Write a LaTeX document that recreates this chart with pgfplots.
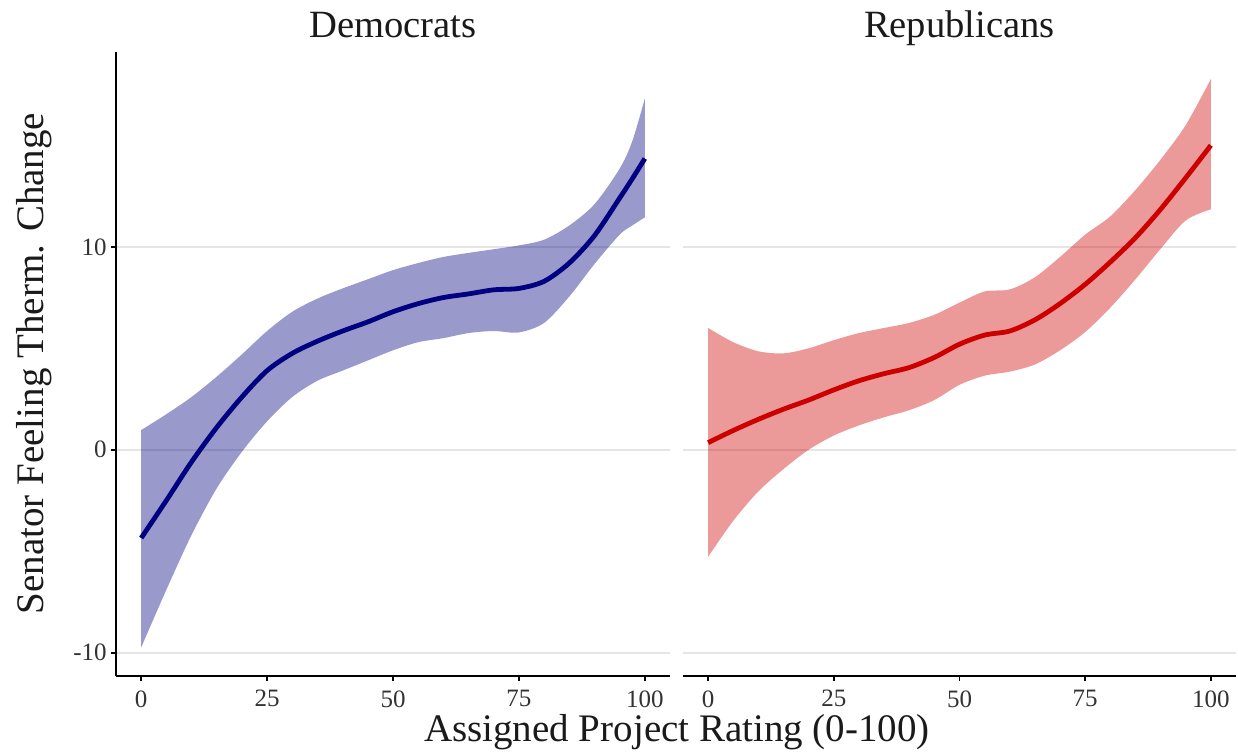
\documentclass[border=0pt]{standalone}
\usepackage{fontspec}
\setmainfont{Liberation Serif}
\usepackage{pgfplots}
\usepackage{pgfplotstable}
\pgfplotsset{compat=1.18}
\usepgfplotslibrary{fillbetween}

\definecolor{demline}{HTML}{000080}
\definecolor{repline}{HTML}{CD0000}
\definecolor{gridc}{HTML}{E5E5E5}
\definecolor{tickc}{HTML}{333333}
\definecolor{titc}{HTML}{1A1A1A}

\pgfplotstableread{
x lo mid hi
0 -9.74 -4.35 0.97
5 -6.9 -2.5 1.75
10 -4.2 -0.6 2.6
15 -1.9 1.1 3.6
20 -0.1 2.6 4.7
25 1.4 3.9 5.85
30 2.6 4.75 6.8
35 3.4 5.35 7.45
40 3.9 5.85 7.95
45 4.4 6.3 8.4
50 4.9 6.8 8.85
55 5.3 7.2 9.2
60 5.5 7.5 9.5
65 5.75 7.68 9.7
70 5.85 7.88 9.88
75 5.78 7.95 10.07
80 6.25 8.3 10.35
85 7.55 9.2 11.05
90 9.15 10.55 12.1
95 10.6 12.4 13.85
97.5 11.05 13.35 15.2
100 11.45 14.35 17.3
}\dem

\pgfplotstableread{
x lo mid hi
0 -5.27 0.35 6.0
5 -3.5 0.95 5.3
10 -2.05 1.5 4.85
15 -0.95 2.0 4.75
20 0.0 2.45 5.0
25 0.7 2.95 5.4
30 1.2 3.4 5.75
35 1.6 3.75 6.0
40 1.95 4.05 6.25
45 2.45 4.55 6.65
50 3.2 5.2 7.25
55 3.65 5.65 7.8
60 3.85 5.85 7.9
65 4.2 6.4 8.5
70 4.9 7.2 9.5
75 5.8 8.15 10.6
80 7.0 9.25 11.5
85 8.4 10.45 12.8
90 9.9 11.85 14.3
95 11.3 13.4 16.0
100 11.85 15.0 18.27
}\rep

\pgfplotsset{panel/.style={
  scale only axis, height=312pt,
  xmin=-5, xmax=105, ymin=-11.15, ymax=19.6,
  xtick={0,25,50,75,100}, xticklabels={0,25,50,75,100},
  ytick={-10,0,10}, yticklabels={-10,0,10},
  tick align=outside, major tick length=2.5pt,
  tick style={black, line width=0.9pt},
  axis line style={black, line width=0.9pt},
  ymajorgrids, grid style={gridc, line width=1pt},
  ticklabel style={font=\fontsize{12.5}{15}\selectfont, text=tickc},
  xticklabel style={anchor=north, inner sep=0pt, yshift=-4.5pt},
  yticklabel style={anchor=east, inner sep=0pt, xshift=-2pt},
  title style={font=\fontsize{19.3}{23}\selectfont, text=titc, at={(0.5,1)}, anchor=base, inner sep=0pt, yshift=1.4pt},
  anchor=south west,
}}

\begin{document}
\begin{tikzpicture}

\begin{axis}[panel, at={(58pt,38pt)}, width=277pt, axis lines*=left, title={Democrats}]
\addplot[name path=dhi, draw=none, smooth] table[x=x,y=hi]{\dem};
\addplot[name path=dlo, draw=none, smooth] table[x=x,y=lo]{\dem};
\addplot[fill=demline, fill opacity=0.4, draw=none] fill between[of=dhi and dlo];
\addplot[demline, line width=2.4pt, smooth] table[x=x,y=mid]{\dem};
\end{axis}

\begin{axis}[panel, at={(341.5pt,38pt)}, width=276.5pt, axis lines*=left,
  y axis line style={draw=none}, ytick style={draw=none}, yticklabels={}, title={Republicans}]
\addplot[name path=rhi, draw=none, smooth] table[x=x,y=hi]{\rep};
\addplot[name path=rlo, draw=none, smooth] table[x=x,y=lo]{\rep};
\addplot[fill=repline, fill opacity=0.4, draw=none] fill between[of=rhi and rlo];
\addplot[repline, line width=2.4pt, smooth] table[x=x,y=mid]{\rep};
\end{axis}

\node[font=\fontsize{19.5}{23}\selectfont, text=titc, anchor=base, inner sep=0pt] at (338.5pt,5.5pt) {Assigned Project Rating (0-100)};
\node[font=\fontsize{19.5}{23}\selectfont, text=titc, anchor=base, rotate=90, inner sep=0pt] at (21.5pt,194.25pt) {Senator Feeling Therm. Change};
\path (0,0) rectangle (619pt,376pt);
\end{tikzpicture}
\end{document}
